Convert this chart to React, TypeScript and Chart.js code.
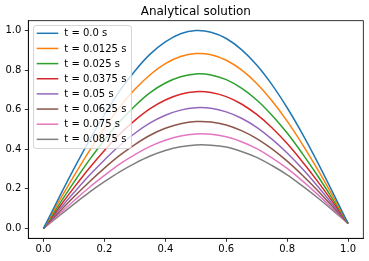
import React, { useEffect, useRef } from 'react';
import { Chart, registerables } from 'chart.js';

Chart.register(...registerables);

const xValues = [0, 0.05, 0.1, 0.15, 0.2, 0.25, 0.3, 0.35, 0.4, 0.45, 0.5, 0.55, 0.6, 0.65, 0.7, 0.75, 0.8, 0.85, 0.9, 0.95, 1.0];

const seriesLabels = ['t = 0.0 s', 't = 0.0125 s', 't = 0.025 s', 't = 0.0375 s', 't = 0.05 s', 't = 0.0625 s', 't = 0.075 s', 't = 0.0875 s'];

const uT0 = [0, 0.153, 0.302, 0.444, 0.575, 0.695, 0.796, 0.881, 0.943, 0.984, 1.0, 0.992, 0.96, 0.904, 0.826, 0.727, 0.61, 0.478, 0.334, 0.181, 0.025];
const uT1 = [0, 0.135, 0.266, 0.391, 0.507, 0.613, 0.703, 0.777, 0.833, 0.869, 0.884, 0.878, 0.85, 0.801, 0.733, 0.645, 0.542, 0.425, 0.298, 0.163, 0.025];
const uT2 = [0, 0.118, 0.234, 0.345, 0.447, 0.54, 0.619, 0.686, 0.735, 0.767, 0.781, 0.776, 0.752, 0.709, 0.649, 0.572, 0.482, 0.378, 0.266, 0.147, 0.025];
const uT3 = [0, 0.104, 0.206, 0.304, 0.394, 0.476, 0.546, 0.605, 0.649, 0.678, 0.691, 0.687, 0.666, 0.629, 0.576, 0.509, 0.429, 0.337, 0.238, 0.133, 0.025];
const uT4 = [0, 0.092, 0.181, 0.267, 0.346, 0.419, 0.481, 0.533, 0.572, 0.598, 0.61, 0.607, 0.589, 0.557, 0.511, 0.451, 0.381, 0.301, 0.213, 0.12, 0.025];
const uT5 = [0, 0.081, 0.16, 0.235, 0.305, 0.369, 0.424, 0.471, 0.506, 0.529, 0.54, 0.538, 0.523, 0.494, 0.454, 0.402, 0.34, 0.269, 0.192, 0.109, 0.025];
const uT6 = [0, 0.071, 0.14, 0.207, 0.268, 0.325, 0.373, 0.415, 0.446, 0.467, 0.477, 0.476, 0.463, 0.438, 0.403, 0.357, 0.303, 0.24, 0.172, 0.099, 0.025];
const uT7 = [0, 0.062, 0.123, 0.182, 0.236, 0.286, 0.329, 0.366, 0.394, 0.413, 0.422, 0.421, 0.411, 0.389, 0.359, 0.318, 0.271, 0.215, 0.155, 0.091, 0.025];

const colors = ['#1f77b4', '#ff7f0e', '#2ca02c', '#d62728', '#9467bd', '#8c564b', '#e377c2', '#7f7f7f'];

const xTicks = [0, 0.2, 0.4, 0.6, 0.8, 1.0];
const yTicks = [0, 0.2, 0.4, 0.6, 0.8, 1.0];

const titleText = 'Analytical solution';

const FONT = '"DejaVu Sans", sans-serif';

const decorPlugin = {
  id: 'decor',
  afterDatasetsDraw(chart: any) {
    const ctx = chart.ctx as CanvasRenderingContext2D;
    const ca = chart.chartArea;
    ctx.save();
    // legend
    const bx = 33.5, by = 25.5, bw = 98, bh = 123;
    ctx.beginPath();
    (ctx as any).roundRect(bx, by, bw, bh, 2.5);
    ctx.fillStyle = 'rgba(255,255,255,0.8)';
    ctx.fill();
    ctx.strokeStyle = 'rgba(204,204,204,0.8)';
    ctx.lineWidth = 1;
    ctx.stroke();
    ctx.font = '10px ' + FONT;
    ctx.textBaseline = 'middle';
    ctx.textAlign = 'left';
    chart.data.datasets.forEach((ds: any, i: number) => {
      const y = 33.3 + i * 15.15;
      ctx.beginPath();
      ctx.moveTo(36.7, y);
      ctx.lineTo(58.3, y);
      ctx.strokeStyle = ds.borderColor;
      ctx.lineWidth = 1.5;
      ctx.stroke();
      ctx.fillStyle = '#000';
      ctx.fillText(ds.label, 64.3, y + 0.5);
    });
    // frame
    ctx.strokeStyle = '#000';
    ctx.lineWidth = 0.8;
    ctx.strokeRect(ca.left, ca.top, ca.right - ca.left, ca.bottom - ca.top);
    // title
    ctx.font = '12px ' + FONT;
    ctx.textAlign = 'center';
    ctx.textBaseline = 'alphabetic';
    ctx.fillStyle = '#000';
    ctx.fillText(titleText, (ca.left + ca.right) / 2, 15);
    ctx.restore();
  },
};

export default function App() {
  const ref = useRef<HTMLCanvasElement>(null);
  useEffect(() => {
    document.body.style.margin = '0';
    const series = [uT0, uT1, uT2, uT3, uT4, uT5, uT6, uT7];
    const tickFont = { family: FONT, size: 10 };
    const chart = new Chart(ref.current!, {
      type: 'line',
      data: {
        datasets: series.map((s, i) => ({
          label: seriesLabels[i],
          data: s.map((v, j) => ({ x: xValues[j], y: v })),
          borderColor: colors[i],
          backgroundColor: colors[i],
          borderWidth: 1.5,
          pointRadius: 0,
          fill: false,
          tension: 0.35,
        })),
      },
      options: {
        responsive: false,
        animation: false,
        devicePixelRatio: 1,
        layout: { padding: { left: 0, top: 20.7, right: 5.7, bottom: 0 } },
        plugins: { legend: { display: false }, title: { display: false }, tooltip: { enabled: false } },
        scales: {
          x: {
            type: 'linear',
            min: -0.05,
            max: 1.05,
            afterBuildTicks: (s: any) => { s.ticks = xTicks.map((v) => ({ value: v })); },
            afterFit: (s: any) => { s.height = 22.7; },
            ticks: { font: tickFont, color: '#000', padding: 2, maxRotation: 0, autoSkip: false, callback: (v: any) => Number(v).toFixed(1) },
            grid: { drawOnChartArea: false, tickLength: 3.5, color: '#000', tickWidth: 0.8 },
            border: { color: '#000', width: 0.8 },
          },
          y: {
            type: 'linear',
            min: -0.05,
            max: 1.05,
            afterBuildTicks: (s: any) => { s.ticks = yTicks.map((v) => ({ value: v })); },
            afterFit: (s: any) => { s.width = 28.3; },
            ticks: { font: tickFont, color: '#000', padding: 3.5, autoSkip: false, callback: (v: any) => Number(v).toFixed(1) },
            grid: { drawOnChartArea: false, tickLength: 3.5, color: '#000', tickWidth: 0.8 },
            border: { color: '#000', width: 0.8 },
          },
        },
      } as any,
      plugins: [decorPlugin],
    });
    return () => chart.destroy();
  }, []);
  return (
    <div style={{ position: 'fixed', left: 0, top: 0, width: 369, height: 261, background: '#fff' }}>
      <canvas ref={ref} width={369} height={261} style={{ display: 'block' }} />
    </div>
  );
}
